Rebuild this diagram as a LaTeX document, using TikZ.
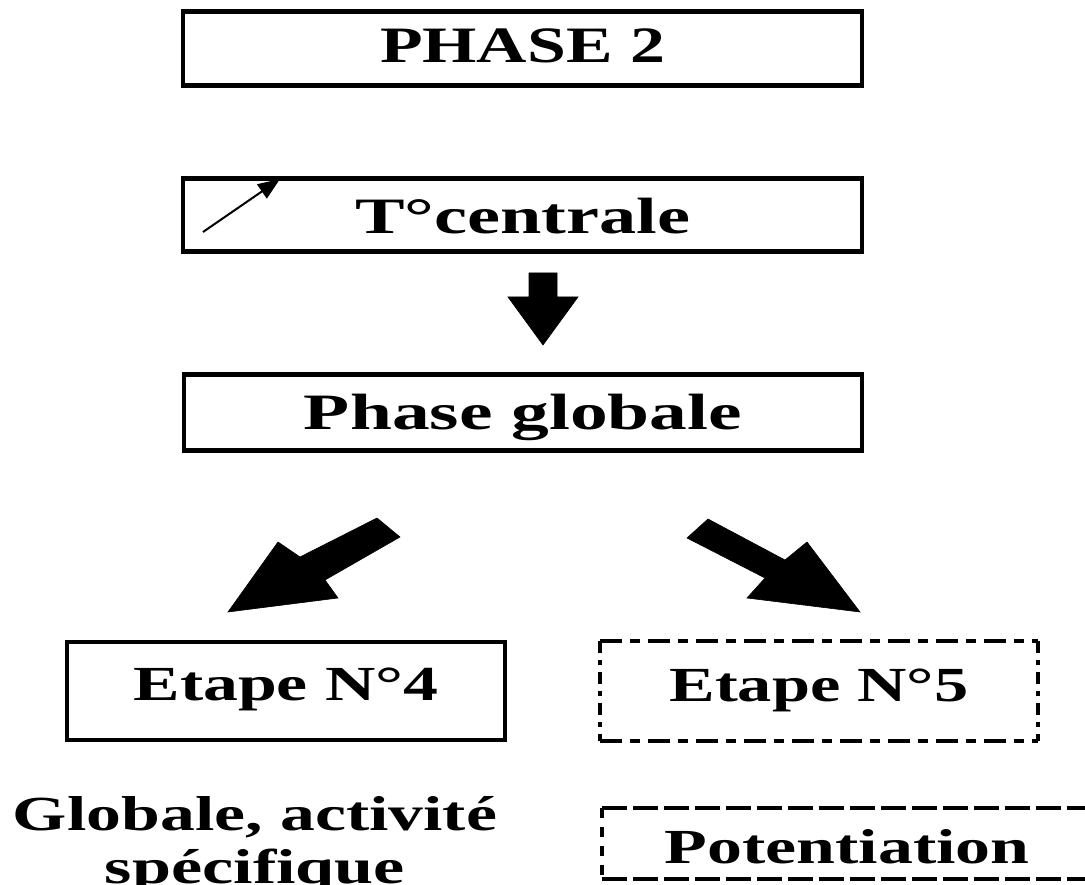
\documentclass[tikz,border=0pt]{standalone}
\usepackage{fontspec}
\setmainfont{Liberation Serif}
\usepackage{graphicx}
\usetikzlibrary{arrows.meta}
\newcommand\wtext[2]{\resizebox{#1}{\height}{#2}}
\tikzset{
  box/.style={draw, line width=4.5pt, inner sep=0pt, text depth=0pt},
  dbox/.style={inner sep=0pt, text depth=0pt},
  txt/.style={font=\fontsize{51pt}{53pt}\selectfont\bfseries},
  txtsmall/.style={font=\fontsize{49pt}{53pt}\selectfont\bfseries},
  blockarrow/.style={fill=black, draw=black, line width=0.6pt, line join=miter},
  dashfive/.style={line width=3.5pt, dash pattern=on 22pt off 8pt on 10pt off 8pt},
  dashfivev/.style={line width=3.5pt, dash pattern=on 12pt off 7pt on 5pt off 7pt},
  dashpot/.style={line width=3.5pt, dash pattern=on 25pt off 6pt},
  dashpotv/.style={line width=3.5pt, dash pattern=on 10pt off 9pt},
  thinarrow/.style={line width=2pt, -{Triangle[length=22pt,width=17pt]}}
}
\begin{document}
\begin{tikzpicture}[x=1pt,y=-1pt]
\useasboundingbox (0,0) rectangle (1085,885);
\clip (0,0) rectangle (1085,885);

% boxes
\node[box, txt, minimum width=679pt, minimum height=74pt, text height=29pt] (p2) at (522.5,48.5) {\wtext{285pt}{PHASE 2}};
\node[box, txt, minimum width=679pt, minimum height=73pt, text height=38pt] (tc) at (522.5,215) {\wtext{335pt}{T°centrale}};
\node[box, txt, minimum width=678pt, minimum height=76pt, text height=35pt] (pg) at (523,412.5) {\wtext{438pt}{Phase globale}};
\node[box, txtsmall, minimum width=438pt, minimum height=98pt, text height=18pt] (e4) at (286,691) {\wtext{305pt}{Etape N°4}};
\node[dbox, txtsmall, minimum width=438pt, minimum height=100pt, text height=20pt] (e5) at (819,691) {\wtext{299pt}{Etape N°5}};
\node[dbox, txtsmall, minimum width=490pt, minimum height=71pt, text height=39pt] (pot) at (847,843.5) {\wtext{365pt}{Potentiation}};
\node[txtsmall, align=center, anchor=base, inner sep=0pt] (gl) at (255,883) {\wtext{484pt}{Globale, activité}\\\wtext{300pt}{spécifique}};

% dashed borders
\draw[dashfive] (e5.north west) -- (e5.north east);
\draw[dashfive] (e5.south west) -- (e5.south east);
\draw[dashfivev] (e5.north west) -- (e5.south west);
\draw[dashfivev] (e5.north east) -- (e5.south east);
\draw[dashpot] (pot.north west) -- (pot.north east);
\draw[dashpot] (pot.south west) -- (pot.south east);
\draw[dashpotv] (pot.north west) -- (pot.south west);
\draw[dashpotv] (pot.north east) -- (pot.south east);

% small arrow inside T°centrale
\coordinate (sa1) at (203,232);
\coordinate (sa2) at (280,179);
\draw[thinarrow] (sa1) -- (sa2);

% block arrows
\fill[blockarrow] (529,273) -- (557,273) -- (557,297) -- (578,297) -- (543,345) -- (508,297) -- (529,297) -- cycle;
\fill[blockarrow] (377,518) -- (300,557) -- (278,542) -- (228,612) -- (338,598) -- (325,580) -- (400,537) -- cycle;
\fill[blockarrow] (708,519) -- (785,560) -- (807,542) -- (860,612) -- (747,598) -- (765,578) -- (687,538) -- cycle;
\end{tikzpicture}
\end{document}
